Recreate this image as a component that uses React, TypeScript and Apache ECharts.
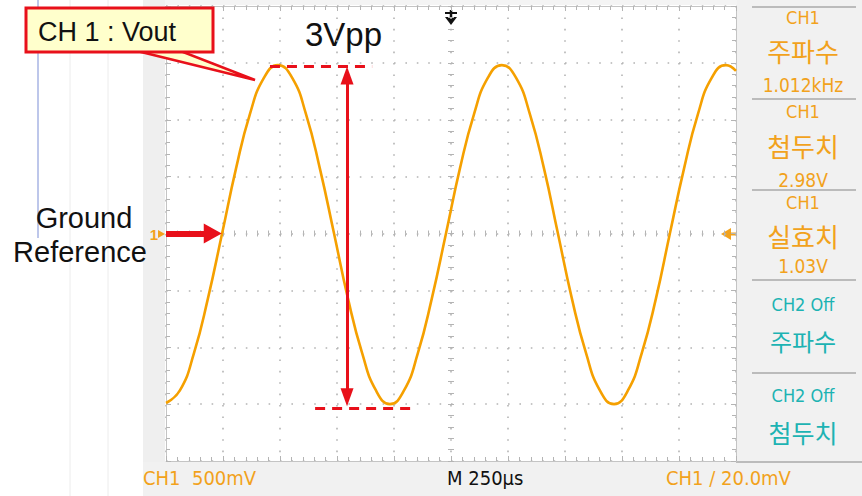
import React, { useEffect, useRef } from "react";
import * as echarts from "echarts";

// Oscilloscope trace: time in microseconds, voltage in volts
const timeUs = [0, 61, 123, 184, 246, 307, 368, 430, 491, 553, 614, 675, 737, 798, 860, 921, 982, 1044, 1105, 1166, 1228, 1289, 1351, 1412, 1473, 1535, 1596, 1658, 1719, 1780, 1842, 1903, 1965, 2026, 2087, 2149, 2210, 2272, 2333, 2394, 2456, 2500];
const voltsV = [-1.49, -1.38, -1.05, -0.57, 0.0, 0.57, 1.05, 1.37, 1.48, 1.37, 1.05, 0.57, 0.0, -0.57, -1.05, -1.38, -1.5, -1.38, -1.05, -0.57, 0.0, 0.57, 1.05, 1.37, 1.48, 1.37, 1.05, 0.57, 0.0, -0.57, -1.05, -1.38, -1.5, -1.38, -1.05, -0.57, 0.0, 0.57, 1.05, 1.37, 1.48, 1.43];

// Screen scales
const timeRange = [0, 2500]; // 10 div x 250 us
const timeStep = 250;
const voltRange = [-2, 2]; // 8 div x 500 mV
const voltStep = 0.5;

// Annotation levels
const peakLevel = 1.47;
const troughLevel = -1.54;
const topDash = [456, 904];
const bottomDash = [654, 1092];
const vppTime = 794;
const groundArrow = [0, 205];

// Side panel texts
const panelItems = [
  { text: "CH1", y: 17, size: 18, color: "orange", cjk: false },
  { text: "주파수", y: 50, size: 26, color: "orange", cjk: true },
  { text: "1.012kHz", y: 85, size: 19, color: "orange", cjk: false },
  { text: "CH1", y: 111, size: 18, color: "orange", cjk: false },
  { text: "첨두치", y: 145, size: 26, color: "orange", cjk: true },
  { text: "2.98V", y: 180, size: 19, color: "orange", cjk: false },
  { text: "CH1", y: 202, size: 18, color: "orange", cjk: false },
  { text: "실효치", y: 235, size: 26, color: "orange", cjk: true },
  { text: "1.03V", y: 266, size: 19, color: "orange", cjk: false },
  { text: "CH2 Off", y: 304, size: 18, color: "teal", cjk: false },
  { text: "주파수", y: 340, size: 24, color: "teal", cjk: true },
  { text: "CH2 Off", y: 395, size: 18, color: "teal", cjk: false },
  { text: "첨두치", y: 432, size: 25, color: "teal", cjk: true },
];
const panelLines = [7, 99, 190, 280, 373];

const ORANGE = "#f2a21c";
const TRACE = "#f5a000";
const TEAL = "#1db3b3";
const RED = "#e8101a";
const GRID = "#b4b4b4";
const NARROW = '"Liberation Sans Narrow", "DejaVu Sans Condensed", sans-serif';
const CJK = '"Noto Sans CJK KR", sans-serif';
const SANS = '"Liberation Sans", Arial, sans-serif';

function borderAxis(extra: any, split: boolean) {
  return {
    type: "value",
    axisLine: { show: true, onZero: false, lineStyle: { color: "#c4c4c4", width: 1 } },
    axisTick: { show: true, inside: true, length: 5, lineStyle: { color: GRID } },
    minorTick: { show: true, splitNumber: 5, length: 4, lineStyle: { color: GRID } },
    axisLabel: { show: false },
    splitLine: { show: split, lineStyle: { color: GRID, width: 1.6, type: [1.6, 9.8] } },
    ...extra,
  };
}

function centerAxis(extra: any, inside: boolean, zeroIdx: number) {
  return {
    type: "value",
    axisLine: { show: true, onZero: true, onZeroAxisIndex: zeroIdx, lineStyle: { opacity: 0 } },
    axisTick: { show: true, inside, length: 3, lineStyle: { color: GRID } },
    minorTick: { show: true, splitNumber: 5, length: 3, lineStyle: { color: GRID } },
    axisLabel: { show: false },
    splitLine: { show: false },
    ...extra,
  };
}

export default function App() {
  const ref = useRef<HTMLDivElement>(null);
  useEffect(() => {
    document.body.style.margin = "0";
    if (!ref.current) return;
    const chart = echarts.init(ref.current, undefined, { renderer: "svg" });
    const seriesData = timeUs.map((t, i) => [t, voltsV[i]]);

    const graphic: any[] = [
      // scope window backgrounds
      { type: "rect", shape: { x: 143, y: 0, width: 22, height: 496 }, style: { fill: "#efefef" }, silent: true },
      { type: "rect", shape: { x: 737, y: 0, width: 125, height: 496 }, style: { fill: "#f1f1f1" }, silent: true },
      { type: "rect", shape: { x: 143, y: 462, width: 719, height: 34 }, style: { fill: "#f1f1f1" }, silent: true },
      { type: "rect", shape: { x: 165, y: 0, width: 572, height: 5 }, style: { fill: "#f4f4f4" }, silent: true },
      // document faint lines on the left
      { type: "line", shape: { x1: 38, y1: 0, x2: 38, y2: 238 }, style: { stroke: "#7d8fd6", lineWidth: 1 }, silent: true },
      { type: "line", shape: { x1: 70, y1: 0, x2: 70, y2: 496 }, style: { stroke: "#ececec", lineWidth: 1 }, silent: true },
      { type: "line", shape: { x1: 108, y1: 0, x2: 108, y2: 496 }, style: { stroke: "#ececec", lineWidth: 1 }, silent: true },
      // side panel separators
      ...panelLines.map((y) => ({ type: "line", shape: { x1: 752, y1: y, x2: 856, y2: y }, style: { stroke: "#a8a8a8", lineWidth: 1.5 }, silent: true })),
      { type: "line", shape: { x1: 736, y1: 462, x2: 862, y2: 462 }, style: { stroke: "#a8a8a8", lineWidth: 1.5 }, silent: true },
      // side panel texts
      ...panelItems.map((p) => ({
        type: "text",
        x: 803,
        y: p.y,
        style: {
          text: p.text,
          fill: p.color === "orange" ? ORANGE : TEAL,
          font: `normal ${p.size}px ${p.cjk ? CJK : NARROW}`,
          align: "center",
          verticalAlign: "middle",
        },
        silent: true,
      })),
      // bottom status texts
      { type: "text", x: 143, y: 478, style: { text: "CH1  500mV", fill: ORANGE, font: `normal 20px ${NARROW}`, align: "left", verticalAlign: "middle" }, silent: true },
      { type: "text", x: 447, y: 478, style: { text: "M 250µs", fill: "#111", font: `normal 20px ${NARROW}`, align: "left", verticalAlign: "middle" }, silent: true },
      { type: "text", x: 666, y: 478, style: { text: "CH1 / 20.0mV", fill: ORANGE, font: `normal 20px ${NARROW}`, align: "left", verticalAlign: "middle" }, silent: true },
      // ground marker "1 >" on the left
      { type: "text", x: 154, y: 234, style: { text: "1", fill: ORANGE, font: `bold 15px ${SANS}`, align: "center", verticalAlign: "middle" }, silent: true },
      { type: "polygon", shape: { points: [[158, 230], [165, 234], [158, 238]] }, style: { fill: ORANGE }, silent: true },
      // trigger level marker on the right
      { type: "polygon", shape: { points: [[721, 234], [731, 228], [731, 240]] }, style: { fill: ORANGE }, silent: true },
      { type: "line", shape: { x1: 729, y1: 234, x2: 736, y2: 234 }, style: { stroke: ORANGE, lineWidth: 3 }, silent: true },
      // trigger position marker on top
      { type: "line", shape: { x1: 445, y1: 13, x2: 457, y2: 13 }, style: { stroke: "#111", lineWidth: 2 }, silent: true },
      { type: "line", shape: { x1: 451, y1: 10, x2: 451, y2: 20 }, style: { stroke: "#111", lineWidth: 2.5 }, silent: true },
      { type: "polygon", shape: { points: [[445, 17], [457, 17], [451, 25]] }, style: { fill: "#111" }, silent: true },
      // callout "CH 1 : Vout"
      { type: "polygon", shape: { points: [[133, 50], [178, 50], [255, 80]] }, style: { fill: "#ffffcc", stroke: RED, lineWidth: 2.5 }, silent: true, z: 10 },
      { type: "rect", shape: { x: 26, y: 8, width: 187, height: 44 }, style: { fill: "#ffffcc", stroke: RED, lineWidth: 3 }, silent: true, z: 11 },
      { type: "text", x: 38, y: 32, style: { text: "CH 1 : Vout", fill: "#111", font: `normal 27px ${SANS}`, align: "left", verticalAlign: "middle" }, silent: true, z: 12 },
      // texts
      { type: "text", x: 305, y: 34, style: { text: "3Vpp", fill: "#111", font: `normal 33px ${SANS}`, align: "left", verticalAlign: "middle" }, silent: true },
      { type: "text", x: 84, y: 218, style: { text: "Ground", fill: "#111", font: `normal 29px ${SANS}`, align: "center", verticalAlign: "middle" }, silent: true },
      { type: "text", x: 80, y: 252, style: { text: "Reference", fill: "#111", font: `normal 29px ${SANS}`, align: "center", verticalAlign: "middle" }, silent: true },
    ];

    chart.setOption({
      animation: false,
      backgroundColor: "#ffffff",
      grid: { left: 166, right: 126, top: 6, bottom: 35, show: true, backgroundColor: "#ffffff", borderWidth: 0 },
      xAxis: [
        borderAxis({ min: timeRange[0], max: timeRange[1], interval: timeStep, position: "bottom" }, true),
        borderAxis({ min: timeRange[0], max: timeRange[1], interval: timeStep, position: "top" }, false),
        centerAxis({ min: -1250, max: 1250, interval: timeStep, position: "bottom" }, true, 0),
        centerAxis({ min: -1250, max: 1250, interval: timeStep, position: "bottom" }, false, 0),
      ],
      yAxis: [
        borderAxis({ min: voltRange[0], max: voltRange[1], interval: voltStep, position: "left" }, true),
        borderAxis({ min: voltRange[0], max: voltRange[1], interval: voltStep, position: "right" }, false),
        centerAxis({ min: voltRange[0], max: voltRange[1], interval: voltStep, position: "left" }, true, 2),
        centerAxis({ min: voltRange[0], max: voltRange[1], interval: voltStep, position: "left" }, false, 2),
      ],
      series: [
        {
          type: "line",
          xAxisIndex: 0,
          yAxisIndex: 0,
          data: seriesData,
          smooth: true,
          symbol: "none",
          clip: false,
          lineStyle: { color: TRACE, width: 2.6 },
          z: 3,
          markLine: {
            silent: true,
            animation: false,
            label: { show: false },
            emphasis: { disabled: true },
            data: [
              [
                { coord: [topDash[0], peakLevel], symbol: "none", lineStyle: { color: RED, width: 3, type: [10, 7] } },
                { coord: [topDash[1], peakLevel], symbol: "none" },
              ],
              [
                { coord: [bottomDash[0], troughLevel], symbol: "none", lineStyle: { color: RED, width: 3, type: [10, 7] } },
                { coord: [bottomDash[1], troughLevel], symbol: "none" },
              ],
              [
                { coord: [vppTime, peakLevel - 0.08], symbol: "triangle", symbolSize: [13, 18], lineStyle: { color: RED, width: 3, type: "solid" } },
                { coord: [vppTime, troughLevel + 0.1], symbol: "triangle", symbolSize: [13, 18] },
              ],
              [
                { coord: [groundArrow[0], 0], symbol: "none", lineStyle: { color: RED, width: 6, type: "solid" } },
                { coord: [groundArrow[1], 0], symbol: "triangle", symbolSize: [20, 18] },
              ],
            ],
          },
        },
      ],
      graphic,
    });
    return () => chart.dispose();
  }, []);
  return <div ref={ref} style={{ width: 862, height: 496 }} />;
}
